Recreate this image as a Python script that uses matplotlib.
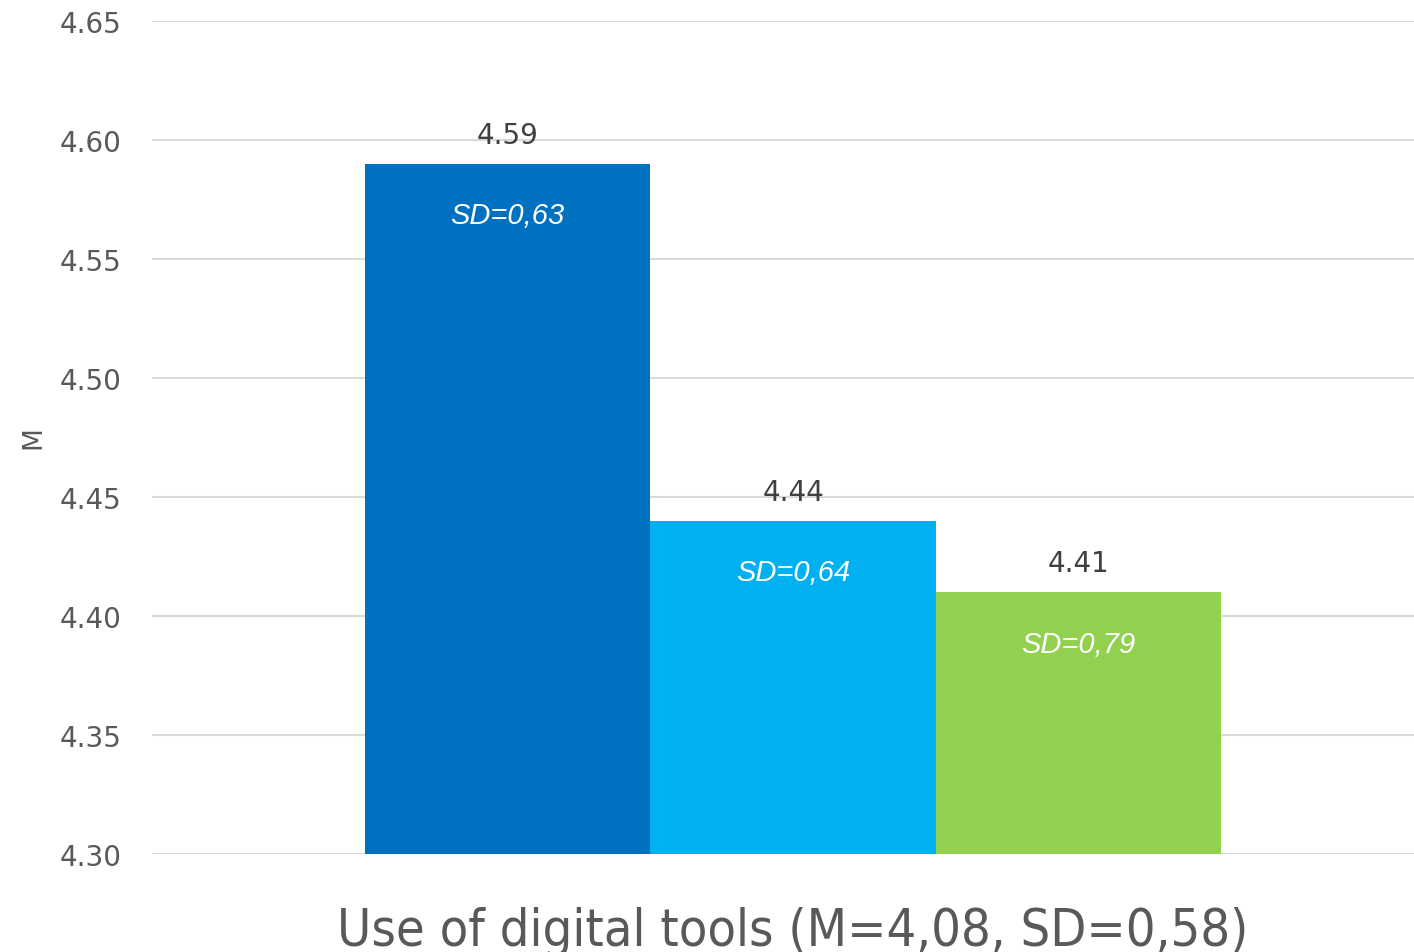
import matplotlib
matplotlib.use("Agg")
import matplotlib.pyplot as plt

groups = ["Group 1", "Group 2", "Group 3"]
means = [4.59, 4.44, 4.41]
sd_labels = ["SD=0,63", "SD=0,64", "SD=0,79"]
colors = ["#0070C0", "#00B0F0", "#92D050"]
xlabel = "Use of digital tools (M=4,08, SD=0,58)"
yticks = [4.30, 4.35, 4.40, 4.45, 4.50, 4.55, 4.60, 4.65]

fig = plt.figure(figsize=(14.14, 9.53), dpi=100)
ax = fig.add_axes([152/1414, 1-855/953, 1-152/1414, (855-22)/953])

xs = [-1, 0, 1]
bars = ax.bar(xs, [m - 4.30 for m in means], bottom=4.30, width=1.0, color=colors, zorder=3)

ax.set_xlim(-2.2465, 2.176)
ax.set_ylim(4.30, 4.65)
ax.set_yticks(yticks)
ax.set_yticklabels([f"{t:.2f}" for t in yticks])
ax.tick_params(axis="y", length=0, pad=22, labelsize=20, labelcolor="#595959")
ax.set_xticks([])
ax.grid(axis="y", color="#D9D9D9", linewidth=1.5, zorder=0)
for s in ax.spines.values():
    s.set_visible(False)

for x, m, sd in zip(xs, means, sd_labels):
    ax.annotate(f"{m:.2f}", (x, m), xytext=(0, 21), textcoords="offset points",
                ha="center", va="center", fontsize=20, color="#404040")
    ax.annotate(sd, (x, m), xytext=(0, -37), textcoords="offset points",
                ha="center", va="center", fontsize=21, color="white",
                style="italic", family="Liberation Sans")

fig.text(33/1414, 1-438/953, "M", rotation=90, ha="center", va="center",
         fontsize=19, color="#595959")
fig.text(793/1414, 1-946/953, xlabel, ha="center", va="baseline",
         fontsize=37.5, color="#595959", fontstretch="condensed")

fig.savefig("out.png", dpi=100)
